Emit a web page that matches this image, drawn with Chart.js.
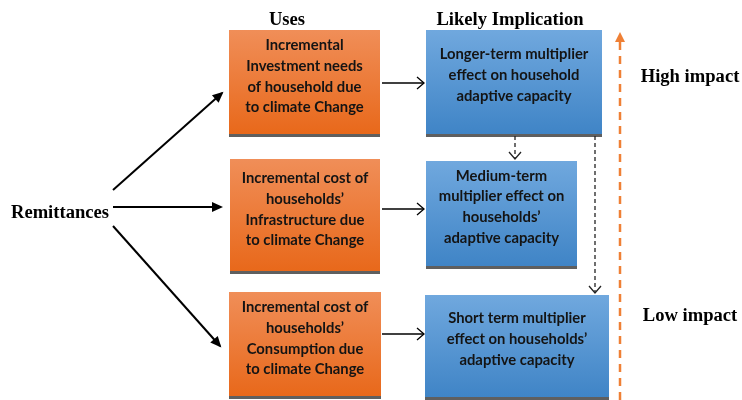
<!DOCTYPE html>
<html>
<head>
<meta charset="utf-8">
<script src="https://cdn.jsdelivr.net/npm/chart.js@4"></script>
<style>
    html, body { margin: 0; padding: 0; background: #ffffff; }
    #wrap { width: 742px; height: 400px; }
</style>
</head>
<body>
<div id="wrap"><canvas id="flowChart" width="742" height="400"></canvas></div>
<script>
// Diagram content (coordinates in diagram units, 0..742 by 0..400)
const headers = ['Uses', 'Likely Implication'];
const headerX = [287, 510];
const sideLabels = ['Remittances', 'High impact', 'Low impact'];
const sideX = [60, 690, 690];
const sideY = [213, 77, 316];

const useText = [
    ['Incremental', 'Investment needs', 'of household due', 'to climate Change'],
    ['Incremental cost of', 'households\u2019', 'Infrastructure due', 'to climate Change'],
    ['Incremental cost of', 'households\u2019', 'Consumption due', 'to climate Change']
];
const useLeft = [229, 230, 229];
const useRight = [380, 380, 381];
const useTop = [30, 159, 292];
const useBottom = [135, 272, 397];

const implText = [
    ['Longer-term multiplier', 'effect on household', 'adaptive capacity'],
    ['Medium-term', 'multiplier effect on', 'households\u2019', 'adaptive capacity'],
    ['Short term multiplier', 'effect on households\u2019', 'adaptive capacity']
];
const implLeft = [426, 426, 425];
const implRight = [602, 577, 609];
const implTop = [30, 161, 295];
const implBottom = [135, 267, 398];

// Fan arrows out of "Remittances"
const fanStartX = [113, 113, 113];
const fanStartY = [190, 207, 226];
const fanEndX = [222, 221, 220];
const fanEndY = [93, 207, 346];

// Use -> implication arrows
const linkY = [83, 209, 334];
const linkStartX = 382;
const linkEndX = 424;

// Dashed drops between implication boxes
const dropX = [515, 595];
const dropFrom = [136, 136];
const dropTo = [159, 293];

// Impact scale arrow
const impactX = 620;
const impactBottom = 400;
const impactTop = 30;

const datasets = [];
for (let i = 0; i < fanStartX.length; i++) {
    datasets.push({
        data: [{ x: fanStartX[i], y: fanStartY[i] }, { x: fanEndX[i], y: fanEndY[i] }],
        showLine: true, borderColor: '#000000', borderWidth: 2, pointRadius: 0,
        head: 'solid'
    });
}
for (let i = 0; i < linkY.length; i++) {
    datasets.push({
        data: [{ x: linkStartX, y: linkY[i] }, { x: linkEndX, y: linkY[i] }],
        showLine: true, borderColor: '#000000', borderWidth: 1.3, pointRadius: 0,
        head: 'open'
    });
}
for (let i = 0; i < dropX.length; i++) {
    datasets.push({
        data: [{ x: dropX[i], y: dropFrom[i] }, { x: dropX[i], y: dropTo[i] }],
        showLine: true, borderColor: '#222222', borderWidth: 1.3, borderDash: [4, 3], pointRadius: 0,
        head: 'open'
    });
}
datasets.push({
    data: [{ x: impactX, y: impactBottom }, { x: impactX, y: impactTop + 6 }],
    showLine: true, borderColor: '#ef8035', borderWidth: 2.5, borderDash: [8, 6], pointRadius: 0,
    head: 'orange'
});

function gradientBox(ctx, x0, y0, x1, y1, top, bottom) {
    const g = ctx.createLinearGradient(0, y0, 0, y1);
    g.addColorStop(0, top);
    g.addColorStop(1, bottom);
    ctx.fillStyle = g;
    ctx.fillRect(x0, y0, x1 - x0, y1 - y0);
    ctx.fillStyle = '#5f5f5f';
    ctx.fillRect(x0, y1 - 1, x1 - x0, 3);
}

const boxPlugin = {
    id: 'boxes',
    beforeDatasetsDraw(chart) {
        const { ctx, scales: { x, y } } = chart;
        ctx.save();
        for (let i = 0; i < useText.length; i++) {
            const x0 = x.getPixelForValue(useLeft[i]), x1 = x.getPixelForValue(useRight[i]);
            const y0 = y.getPixelForValue(useTop[i]), y1 = y.getPixelForValue(useBottom[i]);
            gradientBox(ctx, x0, y0, x1, y1, '#f08e58', '#e8681a');
            drawLines(ctx, useText[i], (x0 + x1) / 2, (y0 + y1) / 2 - 6);
        }
        for (let i = 0; i < implText.length; i++) {
            const x0 = x.getPixelForValue(implLeft[i]), x1 = x.getPixelForValue(implRight[i]);
            const y0 = y.getPixelForValue(implTop[i]), y1 = y.getPixelForValue(implBottom[i]);
            gradientBox(ctx, x0, y0, x1, y1, '#70a8de', '#3f84c6');
            drawLines(ctx, implText[i], (x0 + x1) / 2, (y0 + y1) / 2 - 7);
        }

        // Headers and side labels
        ctx.fillStyle = '#000000';
        ctx.font = 'bold 18.6px "Liberation Serif", serif';
        ctx.textAlign = 'center';
        ctx.textBaseline = 'middle';
        headers.forEach((h, i) => ctx.fillText(h, x.getPixelForValue(headerX[i]), y.getPixelForValue(20)));
        sideLabels.forEach((s, i) => ctx.fillText(s, x.getPixelForValue(sideX[i]), y.getPixelForValue(sideY[i])));
        ctx.restore();
    },
    afterDatasetsDraw(chart) {
        const ctx = chart.ctx;
        ctx.save();
        chart.data.datasets.forEach((ds, i) => {
            const pts = chart.getDatasetMeta(i).data;
            const a = pts[0], b = pts[pts.length - 1];
            const ang = Math.atan2(b.y - a.y, b.x - a.x);
            ctx.translate(b.x, b.y);
            ctx.rotate(ang);
            ctx.setLineDash([]);
            if (ds.head === 'solid') {
                ctx.fillStyle = '#000000';
                ctx.beginPath();
                ctx.moveTo(2, 0);
                ctx.lineTo(-9, -5);
                ctx.lineTo(-9, 5);
                ctx.closePath();
                ctx.fill();
            } else if (ds.head === 'open') {
                ctx.strokeStyle = ds.borderColor;
                ctx.lineWidth = 1.3;
                ctx.beginPath();
                ctx.moveTo(-7, -6);
                ctx.lineTo(0, 0);
                ctx.lineTo(-7, 6);
                ctx.stroke();
            } else {
                ctx.fillStyle = '#ef8035';
                ctx.beginPath();
                ctx.moveTo(4, 0);
                ctx.lineTo(-6, -5);
                ctx.lineTo(-6, 5);
                ctx.closePath();
                ctx.fill();
            }
            ctx.setTransform(1, 0, 0, 1, 0, 0);
        });
        ctx.restore();
    }
};

function drawLines(ctx, lines, cx, cy) {
    const lh = 20.8;
    ctx.fillStyle = '#141414';
    ctx.font = 'bold 14.8px Lato, "Open Sans", sans-serif';
    ctx.textAlign = 'center';
    ctx.textBaseline = 'middle';
    const start = cy - (lines.length - 1) * lh / 2;
    lines.forEach((t, k) => ctx.fillText(t, cx, start + k * lh));
}

new Chart(document.getElementById('flowChart'), {
    type: 'scatter',
    data: { datasets: datasets },
    options: {
        responsive: false,
        animation: false,
        layout: { padding: 0 },
        plugins: { legend: { display: false }, tooltip: { enabled: false } },
        scales: {
            x: { type: 'linear', min: 0, max: 742, display: false },
            y: { type: 'linear', min: 0, max: 400, reverse: true, display: false }
        }
    },
    plugins: [boxPlugin]
});
</script>
</body>
</html>
